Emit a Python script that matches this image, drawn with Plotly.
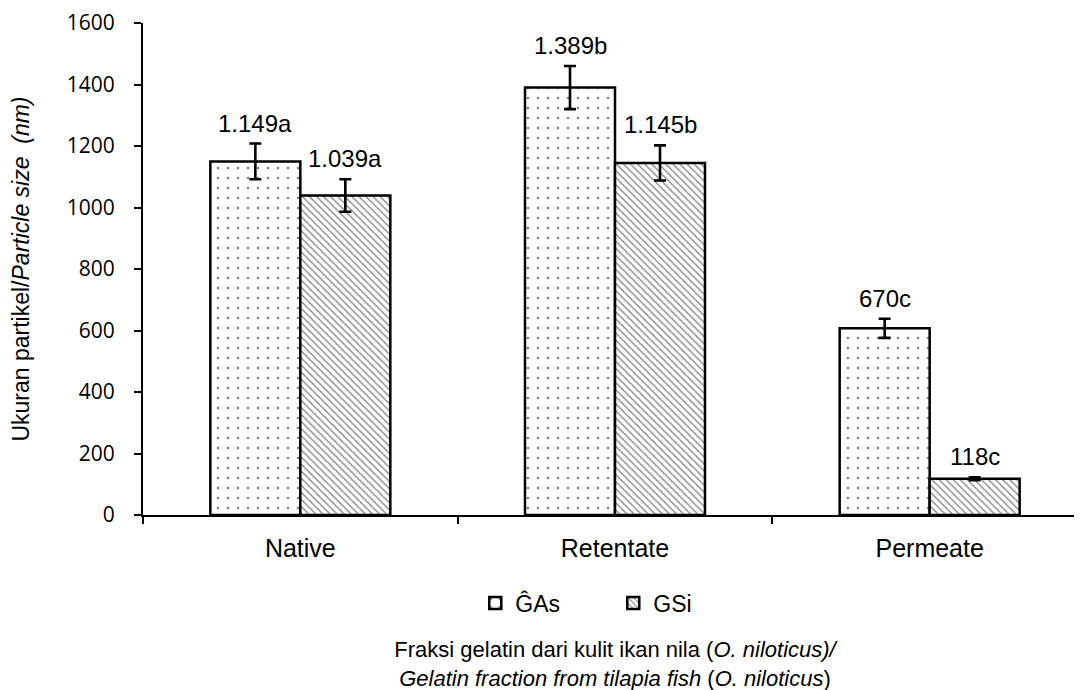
import plotly.graph_objects as go

categories = ["Native", "Retentate", "Permeate"]
gas_values = [1150, 1390, 607]
gas_errors = [58, 70, 31]
gsi_values = [1039, 1145, 118]
gsi_errors = [53, 57, 5]
gas_labels = ["1.149a", "1.389b", "670c"]
gsi_labels = ["1.039a", "1.145b", "118c"]
series_names = ["ĜAs", "GSi"]

ARIAL = "Liberation Sans, Arial, sans-serif"

fig = go.Figure()
fig.add_trace(go.Bar(
    x=categories, y=gas_values, name=series_names[0],
    error_y=dict(type="data", array=gas_errors, color="black", thickness=2.6, width=6),
    marker=dict(color="white", line=dict(color="black", width=2.5),
                pattern=dict(shape=".", fgcolor="black", bgcolor="white", size=10, solidity=0.05)),
))
fig.add_trace(go.Bar(
    x=categories, y=gsi_values, name=series_names[1],
    error_y=dict(type="data", array=gsi_errors, color="black", thickness=2.6, width=6),
    marker=dict(color="white", line=dict(color="black", width=2.5),
                pattern=dict(shape="\\", fgcolor="black", bgcolor="white", size=5, solidity=0.25)),
))

half = 0.286 / 2
annotations = []
for i in range(len(categories)):
    annotations.append(dict(x=i - half, y=gas_values[i] + gas_errors[i], xref="x", yref="y",
                            text=gas_labels[i], showarrow=False, yanchor="bottom", yshift=5,
                            font=dict(family=ARIAL, size=24, color="black")))
    annotations.append(dict(x=i + half, y=gsi_values[i] + gsi_errors[i], xref="x", yref="y",
                            text=gsi_labels[i], showarrow=False, yanchor="bottom", yshift=5,
                            font=dict(family=ARIAL, size=24, color="black")))

fig.update_layout(
    width=1082, height=690,
    margin=dict(l=135, r=3, t=15, b=183),
    plot_bgcolor="white", paper_bgcolor="white",
    barmode="group", bargap=0.428, bargroupgap=0,
    showlegend=True,
    legend=dict(orientation="h", x=0.352, xanchor="left", y=-0.179, yanchor="middle",
                font=dict(family=ARIAL, size=23, color="black"),
                entrywidth=93, entrywidthmode="pixels",
                itemwidth=30, traceorder="normal"),
    annotations=annotations,
)
fig.update_xaxes(
    type="category", range=[-0.5, 2.5], tickson="boundaries", ticks="outside", ticklen=7,
    tickwidth=2, tickcolor="black", showline=True, linecolor="black", linewidth=2,
    showgrid=False, automargin=False, ticklabelstandoff=10,
    tickfont=dict(family=ARIAL, size=25, color="black"),
    title=dict(text="Fraksi gelatin dari kulit ikan nila (<i>O. niloticus)/</i><br>"
                    "<i>Gelatin fraction from tilapia fish</i> (<i>O. niloticus</i>)",
               font=dict(family=ARIAL, size=22, color="black"), standoff=81),
)
fig.update_yaxes(
    range=[0, 1600], dtick=200, ticks="outside", ticklen=7, tickwidth=2, tickcolor="black",
    showline=True, linecolor="black", linewidth=2, showgrid=False, zeroline=False,
    automargin=False, ticklabelstandoff=15,
    tickfont=dict(family="Open Sans", size=21, color="black"),
    title=dict(text="Ukuran partikel/<i>Particle size  (nm)</i>",
               font=dict(family=ARIAL, size=23, color="black"), standoff=37),
)

fig.write_html("out.html")
